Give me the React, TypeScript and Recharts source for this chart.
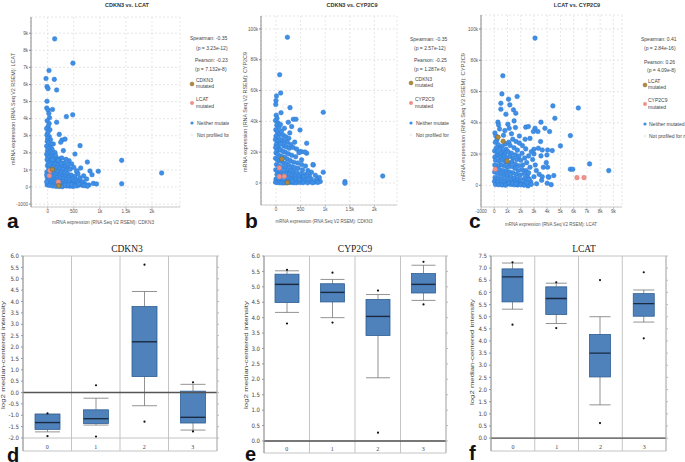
import React from "react";
import {
  ScatterChart, Scatter, ComposedChart, Bar, XAxis, YAxis, CartesianGrid, ReferenceLine,
} from "recharts";

const SANS = "'Liberation Sans', Arial, sans-serif";
const SERIF = "'Liberation Serif', 'Times New Roman', serif";
const NARROW = "'Liberation Sans Narrow', 'DejaVu Sans Condensed', 'Liberation Sans', sans-serif";

const BLUE = "#3f8fe6";
const BLUE_EDGE = "#2c7bd4";
const BROWN = "#b08a3e";
const BROWN_EDGE = "#7d6228";
const PINK = "#f0928a";
const PINK_EDGE = "#e07a72";
const NP_FILL = "#ffffff";
const NP_EDGE = "#dddddd";

const BOX_FILL = "#4f81bb";
const BOX_EDGE = "#2f5f93";
const MEDIAN = "#1b2a40";

// ---------- scatter data : CDKN3 (x) vs LCAT (y)
const A_NEITHER = [
  [134, 8670], [484, 7250], [25, 6820], [-32, 6350], [127, 6300], [-13, 5880], [6, 5760], [172, 5680],
  [-13, 5020], [-18, 4620], [8, 4500], [92, 4540], [22, 4300], [35, 4050], [358, 4120], [480, 4230],
  [172, 3790], [-10, 3880], [28, 3720], [10, 3560], [-20, 3420], [42, 3350], [5, 3200], [222, 3080],
  [274, 2750], [332, 2800], [250, 2620], [108, 2520], [620, 2420], [300, 2130], [523, 1930], [760, 1460],
  [1419, 1560], [633, 1110], [811, 940], [970, 920], [850, 720], [556, 900], [2185, 820], [1419, 190],
  [875, 210], [937, 180], [747, 470],
  [-15, 3050], [30, 2950], [0, 2850], [55, 2760], [-8, 2680], [20, 2580], [65, 2480], [-20, 2400],
  [40, 2330], [10, 2250], [85, 2200], [-5, 2120], [50, 2060], [25, 1980], [140, 2010], [-18, 1920], [70, 1880],
  [0, 1800], [35, 1760], [95, 1720], [160, 1690], [220, 1650], [270, 1700], [350, 1620], [410, 1540],
  [-12, 1600], [55, 1560], [120, 1520], [185, 1480], [245, 1430], [310, 1400], [460, 1350], [15, 1420],
  [80, 1380], [140, 1330], [200, 1280], [265, 1240], [330, 1200], [390, 1150], [-5, 1250], [45, 1200],
  [105, 1160], [170, 1110], [230, 1060], [295, 1020], [360, 980], [430, 1040], [500, 1150], [20, 1050],
  [75, 990], [135, 950], [195, 900], [255, 860], [320, 820], [385, 760], [450, 700], [520, 620], [580, 780],
  [-15, 880], [40, 820], [100, 780], [160, 730], [220, 690], [280, 640], [340, 600], [400, 560], [470, 500],
  [540, 440], [610, 380], [680, 300], [10, 700], [65, 640], [125, 600], [185, 560], [245, 520], [305, 480],
  [365, 440], [425, 400], [490, 340], [560, 280], [640, 220], [720, 160], [790, 120], [-8, 540], [50, 480],
  [110, 440], [170, 400], [230, 360], [290, 320], [350, 280], [410, 240], [470, 200], [530, 160], [600, 130],
  [660, 100], [20, 380], [80, 320], [140, 280], [200, 240], [260, 200], [320, 170], [380, 140], [440, 110],
  [500, 90], [570, 70], [0, 250], [60, 200], [120, 160], [180, 130], [240, 100], [300, 80], [360, 60],
  [420, 50], [480, 40], [-10, 120], [40, 90], [100, 60], [160, 40], [220, 30], [280, 20], [340, 110],
  [400, 130], [460, 150], [520, 60], [590, 180], [700, 80], [760, 50], [620, 540], [690, 650], [560, 950],
  [260, 1380], [380, 1330], [150, 1850], [200, 1560], [90, 1600], [30, 1300], [-20, 700], [-20, 300],
];
const A_CDKN3_MUT = [[89, 1030], [210, 80]];
const A_LCAT_MUT = [[45, 960], [32, 660], [204, 290]];

// ---------- scatter data : CDKN3 (x) vs CYP2C9 (y)
const B_NEITHER = [
  [231, 94600], [75, 70300], [95, 58400], [10, 56500], [0, 53500], [-5, 51000], [285, 48900], [961, 45900],
  [102, 45600], [5, 44000], [20, 42000], [250, 39400], [352, 41400], [406, 41400], [488, 34400], [319, 36600],
  [624, 25800], [488, 20300], [522, 20300], [624, 19300], [758, 11700], [961, 7000], [1402, 900], [1402, -200],
  [860, 3000], [840, 900], [2170, 4500], [467, 19700], [590, 20100], [752, 11900],
  [-10, 40500], [40, 39000], [15, 37500], [60, 36000], [-5, 34500], [30, 33000], [70, 31800], [0, 30500],
  [50, 29500], [-12, 28200], [25, 27000], [80, 26000], [5, 25000], [45, 24000], [-8, 23000], [65, 22000], [20, 21000],
  [110, 33500], [150, 31000], [200, 30000], [260, 29000], [120, 28000], [180, 27000], [230, 26500], [300, 25000],
  [100, 25500], [160, 24000], [210, 23500], [270, 22500], [350, 23000], [420, 22000], [90, 21500], [140, 20500],
  [190, 20000], [250, 19000], [320, 18000], [400, 17000], [0, 19500], [40, 18500], [85, 17500], [130, 17000],
  [180, 16500], [230, 15500], [290, 14500], [360, 13500], [440, 13000], [520, 12000], [600, 11000], [-10, 16000],
  [30, 15000], [70, 14500], [110, 14000], [160, 13000], [210, 12500], [260, 11500], [320, 10500], [380, 10000],
  [450, 9500], [540, 8500], [650, 8000], [720, 7000], [10, 12000], [50, 11000], [90, 10500], [140, 10000],
  [190, 9500], [240, 8500], [300, 8000], [360, 7500], [420, 6800], [500, 6000], [580, 5500], [680, 4500],
  [800, 5000], [880, 3500], [-5, 8500], [35, 8000], [75, 7500], [120, 7000], [170, 6500], [220, 6000],
  [270, 5500], [330, 5000], [390, 4500], [460, 4000], [530, 3500], [620, 3000], [720, 2500], [820, 2000],
  [20, 5500], [60, 5000], [105, 4500], [150, 4000], [200, 3500], [250, 3000], [310, 2500], [370, 2000],
  [440, 1500], [510, 1000], [600, 1500], [690, 800], [780, 500], [900, 1000], [0, 2500], [40, 2000],
  [85, 1500], [130, 1000], [180, 700], [230, 400], [290, 300], [350, 200], [410, 100], [480, 300],
  [550, 200], [640, 100], [740, 150], [850, 300], [-10, 500], [30, 300], [70, 200], [115, 100], [160, 50],
  [210, 150], [260, 800], [330, 1200], [400, 2800], [470, 2200], [560, 4200], [650, 6500], [520, 15000],
  [380, 26500], [280, 32500], [170, 35500], [90, 38000],
];
const B_CDKN3_MUT = [[120, 15600], [231, 200]];
const B_CYP_MUT = [[68, 9800], [68, 4100], [168, 4300]];
const B_NOT_PROFILED = [[184, 49800]];

// ---------- scatter data : LCAT (x) vs CYP2C9 (y)
const C_NEITHER = [
  [3080, 94200], [650, 70100], [580, 58500], [1080, 55100], [1730, 56800], [500, 52500], [1180, 51500],
  [500, 48700], [1450, 48300], [4430, 50800], [6350, 49500], [880, 45500], [1630, 46100], [4580, 42900],
  [1500, 41200], [280, 40400], [330, 38600], [1030, 39100], [1130, 36500], [2380, 37200], [2580, 37600],
  [3080, 36500], [3530, 40400], [2960, 34400], [3830, 36500], [4180, 34400], [3300, 34400], [5750, 31800],
  [5000, 25200], [3630, 22600], [4030, 22600], [3980, 19400], [4380, 22200], [3530, 18800], [3000, 23100],
  [3330, 23700], [2330, 29500], [2130, 25400], [2380, 23300], [3000, 20100], [3930, 14500], [3710, 11500],
  [4030, 11500], [5750, 10300], [5930, 10300], [7200, 13700], [3180, 9400], [3630, 5500], [4080, 5500],
  [4500, 6200], [3000, 5500], [2500, 6000], [2750, 2300], [2550, -400], [4000, 1300], [8650, 9400],
  [4130, 5100], [4300, 400], [3580, 3200],
  [50, 33500], [120, 31500], [200, 29000], [80, 27500], [300, 26000], [600, 25000], [850, 26500], [1100, 27500],
  [1400, 29500], [1650, 28000], [1900, 27000], [1200, 25500], [1500, 24000], [1750, 22500], [900, 23000],
  [650, 22000], [400, 23500], [150, 24000], [30, 22000], [250, 21000], [500, 20500], [800, 20000], [1050, 21500],
  [1300, 20500], [1600, 19500], [1850, 18500], [2100, 20500], [2300, 17500], [2000, 16000], [1700, 16500],
  [1400, 17500], [1150, 18500], [900, 17500], [700, 18500], [450, 18000], [200, 19000], [50, 18000], [100, 16000],
  [350, 15500], [600, 16000], [850, 15000], [1100, 14000], [1350, 15000], [1600, 13500], [1850, 12500],
  [2150, 13000], [2450, 14500], [2700, 11500], [2400, 9500], [2100, 10000], [1800, 9500], [1550, 11000],
  [1300, 12000], [1000, 11500], [750, 12500], [500, 13000], [250, 12500], [40, 13000], [150, 10500], [400, 10000],
  [650, 9500], [900, 9000], [1150, 8500], [1400, 8000], [1650, 7000], [1950, 6500], [2250, 7500], [2600, 8000],
  [30, 8500], [250, 7500], [500, 7000], [750, 6500], [1000, 6000], [1250, 5500], [1500, 4500], [1750, 4000],
  [2000, 3500], [2300, 4500], [2650, 4000], [60, 5000], [300, 4500], [550, 4000], [800, 3500], [1050, 3000],
  [1300, 2500], [1550, 2000], [1800, 1500], [2050, 1000], [2350, 2500], [20, 2500], [250, 2000], [500, 1500],
  [750, 1000], [1000, 800], [1250, 500], [1500, 300], [1750, 200], [2000, 400], [2250, 100], [100, 500],
  [350, 300], [600, 200], [850, 100], [1100, 1500], [1400, 1200], [1650, 900], [2450, 1500], [2800, 600],
  [3200, 1000], [3400, 7000], [3100, 13000], [2900, 16500], [2600, 18800], [2800, 21500], [3500, 28000],
  [2700, 30000], [1900, 31500], [1300, 33000], [700, 32000], [400, 36000], [800, 35000], [1600, 37000],
];
const C_LCAT_MUT = [[290, 30800], [675, 28200], [980, 15500]];
const C_CYP_MUT = [[80, 10300], [6250, 4900], [6780, 4900]];
const C_NOT_PROFILED = [[930, 49400]];

const CDKN3_X_TICKS = [0, 500, 1000, 1500, 2000];
const LCAT_Y_TICKS = [-1000, 0, 1000, 2000, 3000, 4000, 5000, 6000, 7000, 8000, 9000];
const CYP_Y_TICKS = [0, 20000, 40000, 60000, 80000, 100000];
const LCAT_X_TICKS = [-1000, 0, 1000, 2000, 3000, 4000, 5000, 6000, 7000, 8000, 9000];

// ---------- box plots: [whisker low, q1, median, q3, whisker high] per class 0..3
const CLASSES = ["0", "1", "2", "3"];
const CDKN3_BOX = [
  [-1.73, -1.62, -1.32, -0.95, -0.95], [-1.43, -1.36, -1.15, -0.76, -0.25],
  [-0.58, 0.7, 2.23, 3.78, 4.44], [-1.65, -1.34, -1.09, 0.06, 0.36],
];
const CDKN3_OUT = [[-0.92, -1.92], [0.32, -1.94], [5.62, -1.28], [0.45, -1.71]];
const CYP_BOX = [
  [4.17, 4.49, 5.08, 5.41, 5.52], [4.0, 4.51, 4.82, 5.1, 5.24],
  [2.05, 3.42, 4.04, 4.59, 4.75], [4.56, 4.8, 5.08, 5.43, 5.7],
];
const CYP_OUT = [[5.55, 3.81], [5.46, 3.84], [4.88, 0.27], [5.81, 4.43]];
const LCAT_BOX = [
  [5.31, 5.61, 6.64, 6.97, 7.21], [4.72, 5.09, 5.75, 6.23, 6.38],
  [1.37, 2.52, 3.5, 4.27, 5.0], [4.78, 5.02, 5.54, 5.95, 6.1],
];
const LCAT_OUT = [[7.24, 4.67], [6.42, 4.53], [6.51, 0.62], [6.83, 4.11]];

const CDKN3_TICKS = [-2, -1.5, -1, -0.5, 0, 0.5, 1, 1.5, 2, 2.5, 3, 3.5, 4, 4.5, 5, 5.5, 6];
const CYP_TICKS = [0, 0.5, 1, 1.5, 2, 2.5, 3, 3.5, 4, 4.5, 5, 5.5, 6];
const LCAT_TICKS = [0, 0.5, 1, 1.5, 2, 2.5, 3, 3.5, 4, 4.5, 5, 5.5, 6, 6.5, 7, 7.5];

const fmtK = (v: number) => (v >= 1000 ? `${v / 1000}k` : `${v}`);
const toPts = (arr: number[][]) => arr.map(([x, y]) => ({ x, y }));

const dot = (fill: string, stroke: string) => (p: any) => (
  <circle cx={p.cx} cy={p.cy} r={2.3} fill={fill} stroke={stroke} strokeWidth={0.5} />
);

function ScatterPanel({ left, width, margin, yWidth, xDomain, yDomain, xTicks, yTicks, groups }: any) {
  const tick = { fontSize: 4.6, fill: "#555", fontFamily: SANS };
  return (
    <div style={{ position: "absolute", left, top: 0 }}>
      <ScatterChart width={width} height={230} margin={margin}>
        <CartesianGrid strokeDasharray="2 2" stroke="#e6e6e6" />
        <XAxis
          type="number" dataKey="x" domain={xDomain} ticks={xTicks} tickFormatter={fmtK}
          allowDataOverflow interval={0} height={10} tick={tick} tickSize={2} tickMargin={1}
          axisLine={{ stroke: "#cccccc" }} tickLine={{ stroke: "#bbbbbb" }}
        />
        <YAxis
          type="number" dataKey="y" domain={yDomain} ticks={yTicks} tickFormatter={fmtK}
          allowDataOverflow interval={0} width={yWidth} tick={tick} tickSize={2} tickMargin={1}
          axisLine={{ stroke: "#888888" }} tickLine={{ stroke: "#888888" }}
        />
        {groups.map((g: any, i: number) => (
          <Scatter key={i} data={toPts(g.pts)} shape={dot(g.fill, g.stroke)} isAnimationActive={false} />
        ))}
      </ScatterChart>
    </div>
  );
}

function BoxShape(props: any) {
  const { x, y, width, height, payload } = props;
  const [lo, hi] = payload.range;
  const top = Math.min(y, y + height);
  const h = Math.abs(height);
  const py = (v: number) => top + ((hi - v) / (hi - lo)) * h;
  const cx = x + width / 2;
  const [wl, q1, md, q3, wh] = payload.box;
  return (
    <g>
      <line x1={cx} x2={cx} y1={py(wh)} y2={py(q3)} stroke="#777" strokeWidth={0.8} />
      <line x1={cx} x2={cx} y1={py(q1)} y2={py(wl)} stroke="#777" strokeWidth={0.8} />
      <line x1={x} x2={x + width} y1={py(wh)} y2={py(wh)} stroke="#777" strokeWidth={0.8} />
      <line x1={x} x2={x + width} y1={py(wl)} y2={py(wl)} stroke="#777" strokeWidth={0.8} />
      <rect x={x} y={py(q3)} width={width} height={py(q1) - py(q3)} fill={BOX_FILL} stroke={BOX_EDGE} strokeWidth={0.8} />
      <line x1={x} x2={x + width} y1={py(md)} y2={py(md)} stroke={MEDIAN} strokeWidth={1.4} />
      {payload.outs.map((o: number, i: number) => (
        <circle key={i} cx={cx} cy={py(o)} r={1.1} fill="#111" />
      ))}
    </g>
  );
}

function BoxPanel({ left, width, margin, domain, ticks, box, outs, barSize }: any) {
  const rows = CLASSES.map((c, i) => {
    const all = [box[i][0], box[i][4], ...outs[i]];
    return { cat: c, box: box[i], outs: outs[i], range: [Math.min(...all), Math.max(...all)] };
  });
  const height = 232;
  const plotBottom = height - margin.bottom - 1;
  const tick = { fontSize: 6, fill: "#444", fontFamily: NARROW };
  return (
    <div style={{ position: "absolute", left, top: 230 }}>
      <ComposedChart width={width} height={height} data={rows} margin={margin} barSize={barSize}>
        <CartesianGrid
          stroke="#c4c4c4"
          verticalCoordinatesGenerator={({ offset }: any) =>
            [0, 1, 2, 3, 4].map((i) => offset.left + (i * offset.width) / 4)}
          horizontalCoordinatesGenerator={({ offset }: any) => [offset.top, offset.top + offset.height]}
        />
        <XAxis
          dataKey="cat" height={1} axisLine={false} tickLine={false} interval={0}
          tick={(p: any) => (
            <text x={p.x} y={plotBottom - 2.5} textAnchor="middle" fontSize={6} fill="#444" fontFamily={SERIF}>
              {p.payload.value}
            </text>
          )}
        />
        <YAxis
          domain={domain} ticks={ticks} allowDataOverflow interval={0} width={20}
          tickFormatter={(v: number) => v.toFixed(1)} tick={tick} tickSize={2} tickMargin={2}
          axisLine={{ stroke: "#999" }} tickLine={{ stroke: "#999" }}
        />
        <YAxis
          yAxisId="r" orientation="right" domain={domain} ticks={ticks} allowDataOverflow interval={0}
          width={4} tickFormatter={() => ""} tickSize={2} tickMargin={0}
          axisLine={{ stroke: "#bbb" }} tickLine={{ stroke: "#bbb" }}
        />
        <ReferenceLine y={ticks[0]} stroke="#c4c4c4" />
        <ReferenceLine y={0} stroke="#555" strokeWidth={1.3} />
        <Bar dataKey="range" shape={BoxShape} isAnimationActive={false} />
      </ComposedChart>
    </div>
  );
}

function Legend({ x0, stats, mutA, mutB, mx, tx, ys }: any) {
  const t = { fontSize: 5, fill: "#444", fontFamily: SANS };
  return (
    <g>
      {stats.map((s: any, i: number) => (
        <text key={i} x={s[0]} y={s[1]} {...t}>{s[2]}</text>
      ))}
      <circle cx={mx} cy={ys[0]} r={2} fill={BROWN} stroke={BROWN_EDGE} strokeWidth={0.4} />
      <text x={tx} y={ys[0] - 2.3} {...t}>{mutA}</text>
      <text x={tx} y={ys[0] + 3.8} {...t}>mutated</text>
      <circle cx={mx} cy={ys[1]} r={2} fill={PINK} />
      <text x={tx} y={ys[1] - 2.3} {...t}>{mutB}</text>
      <text x={tx} y={ys[1] + 4.5} {...t}>mutated</text>
      <circle cx={mx} cy={ys[2]} r={1.6} fill={BLUE} />
      <text x={tx + 1} y={ys[2] + 1.8} {...t}>Neither mutated</text>
      <circle cx={mx} cy={ys[3]} r={1.6} fill="#f2f2f2" />
      <text x={tx + 1} y={ys[3] + 1.8} {...t}>{x0 < 300 ? "Not profiled for mut" : "Not profiled for muta"}</text>
    </g>
  );
}

const axisTitle = { fontSize: 5, fill: "#555", fontFamily: SANS };
const boxTitle = { fontSize: 5.5, fill: "#444", fontFamily: SANS };

export default function App() {
  return (
    <div style={{ position: "absolute", left: 0, top: 0, width: 685, height: 462, background: "#fff", overflow: "hidden" }}>
      <ScatterPanel
        left={0} width={225} margin={{ top: 17, right: 45, bottom: 13, left: 6 }} yWidth={25}
        xDomain={[-320, 2537]} yDomain={[-1170, 9950]} xTicks={CDKN3_X_TICKS} yTicks={LCAT_Y_TICKS}
        groups={[
          { pts: A_NEITHER, fill: BLUE, stroke: BLUE_EDGE },
          { pts: A_LCAT_MUT, fill: PINK, stroke: PINK_EDGE },
          { pts: A_CDKN3_MUT, fill: BROWN, stroke: BROWN_EDGE },
        ]}
      />
      <ScatterPanel
        left={225} width={225} margin={{ top: 16, right: 53, bottom: 15, left: 6 }} yWidth={30}
        xDomain={[-305, 2460]} yDomain={[-14300, 108400]} xTicks={CDKN3_X_TICKS} yTicks={CYP_Y_TICKS}
        groups={[
          { pts: B_NOT_PROFILED, fill: NP_FILL, stroke: NP_EDGE },
          { pts: B_NEITHER, fill: BLUE, stroke: BLUE_EDGE },
          { pts: B_CYP_MUT, fill: PINK, stroke: PINK_EDGE },
          { pts: B_CDKN3_MUT, fill: BROWN, stroke: BROWN_EDGE },
        ]}
      />
      <ScatterPanel
        left={450} width={235} margin={{ top: 15, right: 63, bottom: 13, left: 6 }} yWidth={25}
        xDomain={[-1000, 9650]} yDomain={[-13900, 109000]} xTicks={LCAT_X_TICKS} yTicks={CYP_Y_TICKS}
        groups={[
          { pts: C_NOT_PROFILED, fill: NP_FILL, stroke: NP_EDGE },
          { pts: C_NEITHER, fill: BLUE, stroke: BLUE_EDGE },
          { pts: C_CYP_MUT, fill: PINK, stroke: PINK_EDGE },
          { pts: C_LCAT_MUT, fill: BROWN, stroke: BROWN_EDGE },
        ]}
      />

      <BoxPanel left={0} width={225} margin={{ top: 26, right: 4, bottom: 10, left: 3 }}
        domain={[-2.57, 6]} ticks={CDKN3_TICKS} box={CDKN3_BOX} outs={CDKN3_OUT} barSize={25} />
      <BoxPanel left={225} width={225} margin={{ top: 26, right: 0, bottom: 8, left: 19 }}
        domain={[-0.39, 6]} ticks={CYP_TICKS} box={CYP_BOX} outs={CYP_OUT} barSize={24} />
      <BoxPanel left={450} width={235} margin={{ top: 26, right: 15, bottom: 10, left: 21 }}
        domain={[-0.53, 7.5]} ticks={LCAT_TICKS} box={LCAT_BOX} outs={LCAT_OUT} barSize={21} />

      <svg width={685} height={462} style={{ position: "absolute", left: 0, top: 0, pointerEvents: "none" }}>
        <defs>
          <clipPath id="clipA"><rect x={0} y={0} width={229} height={230} /></clipPath>
          <clipPath id="clipB"><rect x={229} y={0} width={220} height={230} /></clipPath>
        </defs>
        {/* scatter titles */}
        <text x={127} y={7} textAnchor="middle" fontSize={5.5} fontWeight="bold" fill="#333" fontFamily={SANS}>CDKN3 vs. LCAT</text>
        <text x={352} y={7} textAnchor="middle" fontSize={5.5} fontWeight="bold" fill="#333" fontFamily={SANS}>CDKN3 vs. CYP2C9</text>
        <text x={577} y={7} textAnchor="middle" fontSize={5.5} fontWeight="bold" fill="#333" fontFamily={SANS}>LCAT vs. CYP2C9</text>

        <g clipPath="url(#clipA)">
          <Legend x0={0} mx={192} tx={196} ys={[84, 103, 123, 135]} mutA="CDKN3" mutB="LCAT"
            stats={[[190, 40, "Spearman: -0.35"], [196, 49.5, "(p = 3.23e-12)"], [195, 62, "Pearson: -0.23"], [195, 71, "(p = 7.132e-8)"]]} />
        </g>
        <g clipPath="url(#clipB)">
          <Legend x0={225} mx={411} tx={415} ys={[83, 103, 123, 135]} mutA="CDKN3" mutB="CYP2C9"
            stats={[[410, 41, "Spearman: -0.35"], [414, 50, "(p = 2.57e-12)"], [414, 62, "Pearson: -0.25"], [414, 71, "(p = 1.287e-6)"]]} />
        </g>
        <Legend x0={450} mx={645} tx={648} ys={[85, 104, 124, 136]} mutA="LCAT" mutB="CYP2C9"
          stats={[[641, 41, "Spearman: 0.41"], [644, 50, "(p = 2.84e-16)"], [644, 64, "Pearson: 0.26"], [647, 72, "(p = 4.09e-8)"]]} />

        {/* scatter axis titles */}
        <text x={103} y={224} textAnchor="middle" textLength={102} lengthAdjust="spacingAndGlyphs" {...axisTitle}>mRNA expression (RNA Seq V2 RSEM): CDKN3</text>
        <text x={324} y={223} textAnchor="middle" textLength={97} lengthAdjust="spacingAndGlyphs" {...axisTitle}>mRNA expression (RNA Seq V2 RSEM): CDKN3</text>
        <text x={551} y={226} textAnchor="middle" textLength={92} lengthAdjust="spacingAndGlyphs" {...axisTitle}>mRNA expression (RNA Seq V2 RSEM): LCAT</text>
        <text transform="translate(15,109) rotate(-90)" textAnchor="middle" textLength={112} lengthAdjust="spacingAndGlyphs" {...axisTitle}>mRNA expression (RNA Seq V2 RSEM): LCAT</text>
        <text transform="translate(247,112) rotate(-90)" textAnchor="middle" textLength={120} lengthAdjust="spacingAndGlyphs" {...axisTitle}>mRNA expression (RNA Seq V2 RSEM): CYP2C9</text>
        <text transform="translate(465,117) rotate(-90)" textAnchor="middle" textLength={128} lengthAdjust="spacingAndGlyphs" {...axisTitle}>mRNA expression (RNA Seq V2 RSEM): CYP2C9</text>

        {/* box plot titles */}
        <text x={127} y={252} textAnchor="middle" fontSize={9.5} fill="#222" fontFamily={SERIF}>CDKN3</text>
        <text x={355} y={252} textAnchor="middle" fontSize={9.5} fill="#222" fontFamily={SERIF}>CYP2C9</text>
        <text x={584} y={252} textAnchor="middle" fontSize={9.5} fill="#222" fontFamily={SERIF}>LCAT</text>
        <text transform="translate(5,355) rotate(-90)" textAnchor="middle" textLength={108} lengthAdjust="spacingAndGlyphs" {...boxTitle}>log2 median-centered intensity</text>
        <text transform="translate(248,355) rotate(-90)" textAnchor="middle" textLength={108} lengthAdjust="spacingAndGlyphs" {...boxTitle}>log2 median-centered intensity</text>
        <text transform="translate(474,352) rotate(-90)" textAnchor="middle" textLength={106} lengthAdjust="spacingAndGlyphs" {...boxTitle}>log2 median-centered intensity</text>

        {/* panel letters */}
        <text x={7} y={228} fontSize={21} fontWeight="bold" fill="#111" fontFamily={SANS}>a</text>
        <text x={245} y={228} fontSize={21} fontWeight="bold" fill="#111" fontFamily={SANS}>b</text>
        <text x={469} y={228} fontSize={21} fontWeight="bold" fill="#111" fontFamily={SANS}>c</text>
        <text x={7} y={462} fontSize={20} fontWeight="bold" fill="#111" fontFamily={SANS}>d</text>
        <text x={245} y={461} fontSize={20} fontWeight="bold" fill="#111" fontFamily={SANS}>e</text>
        <text x={469} y={460} fontSize={20} fontWeight="bold" fill="#111" fontFamily={SANS}>f</text>
      </svg>
    </div>
  );
}
